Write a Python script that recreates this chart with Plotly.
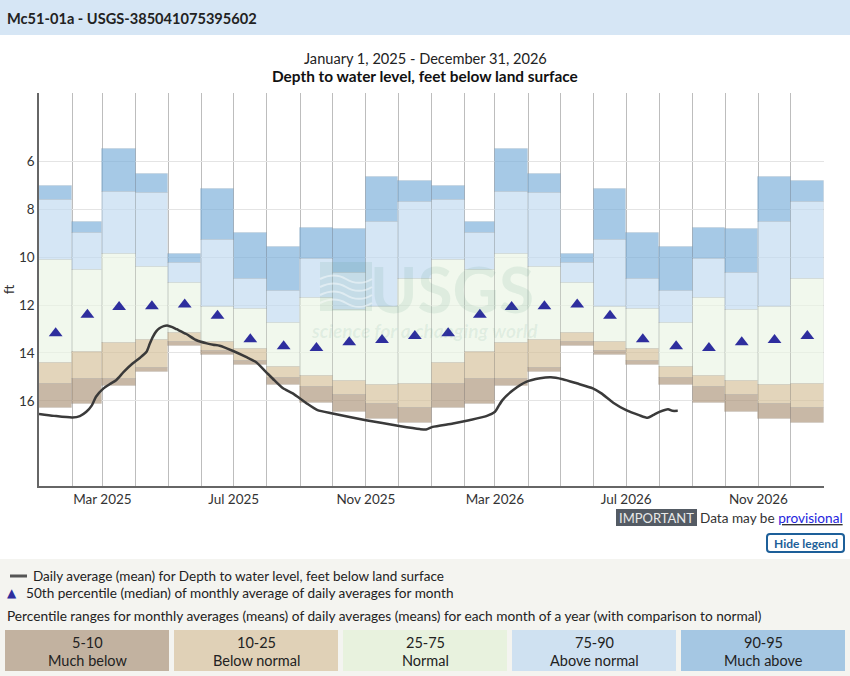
import pandas as pd
import plotly.graph_objects as go

# monthly percentile statistics (depth to water, ft below land surface), Jan..Dec
p95 = [7.02, 8.52, 5.47, 6.53, 9.86, 7.16, 9.00, 9.58, 8.76, 8.83, 6.65, 6.81]
p90 = [7.59, 9.01, 7.28, 7.30, 10.24, 9.29, 10.91, 11.42, 10.07, 10.64, 8.52, 7.71]
p75 = [10.12, 10.54, 9.86, 10.41, 11.06, 12.08, 12.18, 12.74, 11.72, 12.19, 12.07, 10.91]
p25 = [14.43, 13.96, 13.57, 13.47, 13.17, 13.54, 13.82, 14.58, 14.95, 15.16, 15.34, 15.30]
p10 = [15.31, 15.09, 15.09, 14.63, 13.54, 13.93, 14.34, 15.05, 15.43, 15.75, 16.12, 16.29]
p05 = [16.30, 16.14, 15.40, 14.80, 13.70, 14.07, 14.52, 15.36, 16.10, 16.46, 16.77, 16.91]
median = [13.18, 12.41, 12.08, 12.05, 11.98, 12.45, 13.43, 13.72, 13.79, 13.55, 13.46, 13.29]

# daily average depth to water level
daily_dates = ['2025-01-01', '2025-01-15', '2025-02-01', '2025-02-08', '2025-02-14', '2025-02-19',
               '2025-02-23', '2025-03-02', '2025-03-08', '2025-03-14', '2025-03-21', '2025-03-29',
               '2025-04-05', '2025-04-11', '2025-04-14', '2025-04-17', '2025-04-20', '2025-04-23',
               '2025-04-27', '2025-05-01', '2025-05-05', '2025-05-09', '2025-05-18', '2025-05-27',
               '2025-06-06', '2025-06-12', '2025-06-18', '2025-06-30', '2025-07-13', '2025-07-22',
               '2025-07-31', '2025-08-08', '2025-08-16', '2025-08-25', '2025-09-07', '2025-09-17',
               '2025-10-01', '2025-11-01', '2025-12-02', '2025-12-21', '2025-12-27', '2026-01-02',
               '2026-01-21', '2026-02-05', '2026-02-21', '2026-03-01', '2026-03-04', '2026-03-08',
               '2026-03-18', '2026-03-30', '2026-04-12', '2026-04-22', '2026-05-03', '2026-05-16',
               '2026-05-31', '2026-06-08', '2026-06-19', '2026-07-01', '2026-07-13', '2026-07-21',
               '2026-07-26', '2026-08-01', '2026-08-09', '2026-08-13', '2026-08-18']
daily_depth = [16.55, 16.63, 16.70, 16.64, 16.46, 16.20,
               15.83, 15.48, 15.30, 15.13, 14.78, 14.44,
               14.20, 13.95, 13.62, 13.32, 13.10, 12.97,
               12.88, 12.86, 12.92, 13.01, 13.21, 13.46,
               13.60, 13.66, 13.70, 13.91, 14.18, 14.39,
               14.79, 15.15, 15.48, 15.69, 16.11, 16.39,
               16.53, 16.81, 17.05, 17.18, 17.20, 17.09,
               16.95, 16.81, 16.64, 16.46, 16.25, 15.97,
               15.55, 15.21, 15.06, 15.02, 15.10, 15.27,
               15.48, 15.69, 16.08, 16.39, 16.60, 16.71,
               16.60, 16.46, 16.35, 16.42, 16.42]

band_names = ['90-95', '75-90', '25-75', '10-25', '5-10']
band_colors = ['rgba(118,172,216,0.65)', 'rgba(190,216,240,0.65)', 'rgba(234,244,228,0.65)',
               'rgba(212,190,150,0.65)', 'rgba(170,146,118,0.65)']
band_edges = [(p95, p90), (p90, p75), (p75, p25), (p25, p10), (p10, p05)]

month_starts = pd.date_range('2025-01-01', '2027-01-01', freq='MS')
starts = month_starts[:-1]
widths = [(b - a).total_seconds() * 1000 for a, b in zip(month_starts[:-1], month_starts[1:])]
mids = [a + (b - a) / 2 for a, b in zip(month_starts[:-1], month_starts[1:])]

fig = go.Figure()

for name, color, (top, bottom) in zip(band_names, band_colors, band_edges):
    fig.add_trace(go.Bar(
        x=starts, base=top * 2, y=[b - t for t, b in zip(top * 2, bottom * 2)],
        width=widths, offset=0, name=name,
        marker=dict(color=color, line=dict(color='rgba(120,120,120,0.12)', width=1)),
        showlegend=False, hoverinfo='skip'))

fig.add_trace(go.Scatter(x=mids, y=median * 2, mode='markers', showlegend=False,
                         marker=dict(symbol='triangle-up', size=12, color='#2e2e9e')))

fig.add_trace(go.Scatter(x=daily_dates, y=daily_depth, mode='lines', showlegend=False,
                         line=dict(color='#3a3a3a', width=2.5, shape='spline', smoothing=0.6)))

# page geometry (pixels) for the decoration around the plot
L, T, W, H = 39, 93, 785, 393


def px(x):
    return (x - L) / W


def py(y):
    return (T + H - y) / H


def wave(x0, x1, y, amp):
    # little wavy stroke for the watermark logo
    xm = (x0 + x1) / 2
    return (f'M{px(x0)},{py(y)} C{px(x0 + 10)},{py(y - amp)} {px(xm - 8)},{py(y - amp)} {px(xm)},{py(y)} '
            f'S{px(x1 - 8)},{py(y + amp)} {px(x1)},{py(y)}')


font = 'Lato'
wm_color = 'rgba(60,140,110,0.10)'
shapes = [
    dict(type='rect', xref='paper', yref='paper', x0=px(0), x1=px(850), y0=py(0), y1=py(35),
         fillcolor='#d6e6f5', line=dict(width=0), layer='below'),
    dict(type='rect', xref='paper', yref='paper', x0=px(0), x1=px(850), y0=py(559), y1=py(676),
         fillcolor='#f4f4f0', line=dict(width=0), layer='below'),
    dict(type='rect', xref='paper', yref='paper', x0=px(616), x1=px(697), y0=py(509), y1=py(526),
         fillcolor='#545b64', line=dict(width=0)),
    dict(type='path', xref='paper', yref='paper',
         path=(f'M{px(770)},{py(534)} H{px(841)} Q{px(844)},{py(534)} {px(844)},{py(537)} V{py(549)} '
               f'Q{px(844)},{py(552)} {px(841)},{py(552)} H{px(770)} Q{px(767)},{py(552)} {px(767)},{py(549)} '
               f'V{py(537)} Q{px(767)},{py(534)} {px(770)},{py(534)} Z'),
         fillcolor='white', line=dict(color='#1d5f99', width=2)),
    dict(type='line', xref='paper', yref='paper', x0=px(10), x1=px(27), y0=py(576), y1=py(576),
         line=dict(color='#555', width=3)),
    # USGS watermark block
    dict(type='rect', xref='paper', yref='paper', x0=px(320), x1=px(372), y0=py(262), y1=py(311),
         fillcolor=wm_color, line=dict(width=0)),
]
for wy in [279, 287, 295, 303]:
    shapes.append(dict(type='path', xref='paper', yref='paper', path=wave(320, 372, wy, 5),
                       line=dict(color='rgba(255,255,255,0.45)', width=2)))

annotations = [
    dict(text='<b>Mc51-01a - USGS-385041075395602</b>', x=px(5), y=py(18), xanchor='left',
         font=dict(size=14.6, color='#222')),
    dict(text='January 1, 2025 - December 31, 2026', x=px(425), y=py(58),
         font=dict(size=14.6, color='#222')),
    dict(text='<b>Depth to water level, feet below land surface</b>', x=px(425), y=py(76),
         font=dict(size=15.4, color='#111')),
    dict(text='<b>USGS</b>', x=px(452), y=py(288), font=dict(size=64, color=wm_color)),
    dict(text='<b><i>science for a changing world</i></b>', x=px(424), y=py(330),
         font=dict(size=19, color=wm_color)),
    dict(text='IMPORTANT', x=px(656.5), y=py(518), font=dict(size=13, color='#e8e8e8')),
    dict(text='Data may be <u><span style="color:#2424dd">provisional</span></u>', x=px(845), y=py(518),
         xanchor='right', font=dict(size=13.6, color='#333')),
    dict(text='<b>Hide legend</b>', x=px(805.5), y=py(543), font=dict(size=12, color='#1d5f99')),
    dict(text='Daily average (mean) for Depth to water level, feet below land surface', x=px(31), y=py(576),
         xanchor='left', font=dict(size=13.5, color='#222')),
    dict(text='▲', x=px(12), y=py(593), font=dict(size=12, color='#2e2e9e', family='DejaVu Sans')),
    dict(text='50th percentile (median) of monthly average of daily averages for month', x=px(24), y=py(593),
         xanchor='left', font=dict(size=13.6, color='#222')),
    dict(text='Percentile ranges for monthly averages (means) of daily averages (means) for each month of a year '
              '(with comparison to normal)', x=px(5), y=py(615), xanchor='left',
         font=dict(size=13.7, color='#222')),
]

legend_fill = ['#c2b2a0', '#e0d1b7', '#e8f2de', '#cfe1f1', '#a5c7e3']
legend_names = ['5-10', '10-25', '25-75', '75-90', '90-95']
legend_labels = ['Much below', 'Below normal', 'Normal', 'Above normal', 'Much above']
for i, (fill, nm, lab) in enumerate(zip(legend_fill, legend_names, legend_labels)):
    x0 = 5 + i * 169
    shapes.append(dict(type='rect', xref='paper', yref='paper', x0=px(x0), x1=px(x0 + 164),
                       y0=py(630), y1=py(671), fillcolor=fill, line=dict(width=0)))
    annotations.append(dict(text=nm, x=px(x0 + 82), y=py(642), font=dict(size=14.5, color='#222')))
    annotations.append(dict(text=lab, x=px(x0 + 82), y=py(660), font=dict(size=14.5, color='#222')))

for a in annotations:
    a.update(xref='paper', yref='paper', showarrow=False, yanchor='middle')
    a.setdefault('xanchor', 'center')
    a['font'].setdefault('family', font)

fig.update_layout(
    width=850, height=676,
    margin=dict(l=L, r=850 - L - W, t=T, b=676 - T - H, autoexpand=False),
    paper_bgcolor='white', plot_bgcolor='white',
    barmode='overlay', bargap=0,
    font=dict(family=font, size=13, color='#333'),
    shapes=shapes, annotations=annotations,
    xaxis=dict(type='date', range=['2025-01-01', '2027-01-01'], tick0='2025-03-01', dtick='M4',
               tickformat='%b %Y', showgrid=True, gridcolor='#bdbdbd', gridwidth=1,
               minor=dict(dtick='M1', tick0='2025-01-01', showgrid=True, gridcolor='#bdbdbd'),
               showline=True, linecolor='#666', linewidth=1.5, ticks='', zeroline=False,
               automargin=False, tickfont=dict(size=13.5, color='#333')),
    yaxis=dict(range=[19.56, 3.14], tickvals=[6, 8, 10, 12, 14, 16], showgrid=True,
               gridcolor='#e4e4e4', showline=True, linecolor='#666', linewidth=1.5, ticks='',
               zeroline=False, automargin=False,
               title=dict(text='ft', font=dict(size=14, color='#333'), standoff=5),
               tickfont=dict(size=13.5, color='#333')),
)

fig.write_html('out.html', config={'displayModeBar': False},
               post_script="document.body.style.margin='0';document.body.style.overflow='hidden';")
